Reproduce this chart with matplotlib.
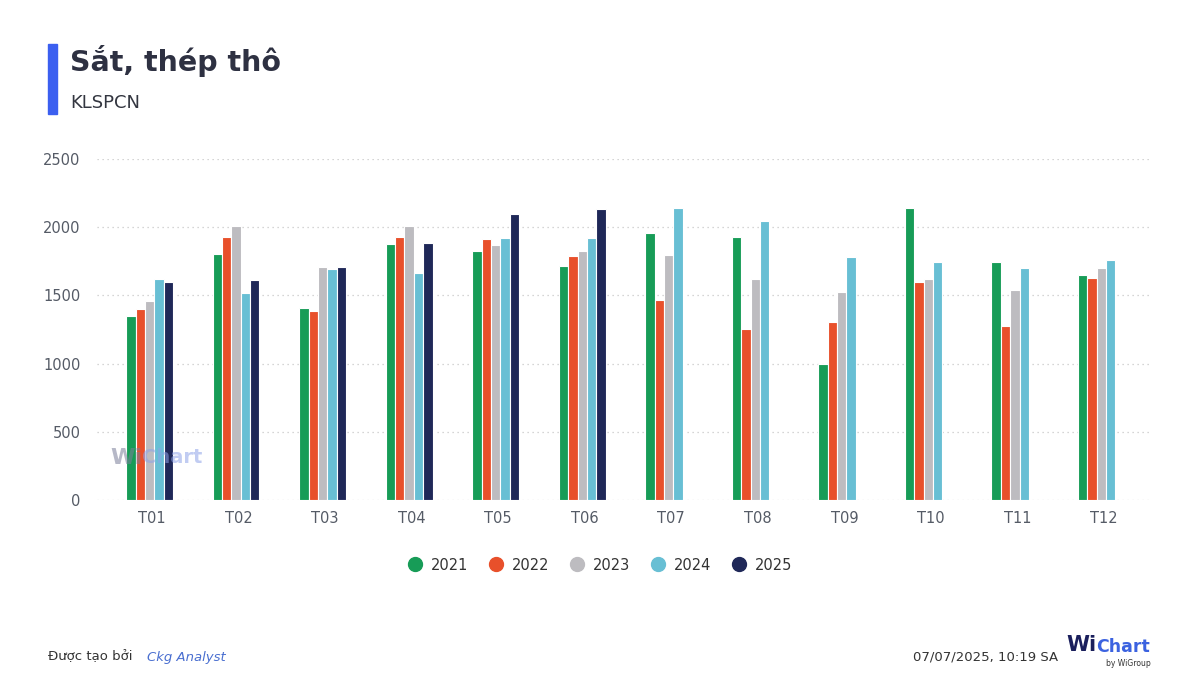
import matplotlib.pyplot as plt
import numpy as np

plt.rcParams['font.family'] = ['DejaVu Sans']

months = ['T01', 'T02', 'T03', 'T04', 'T05', 'T06',
          'T07', 'T08', 'T09', 'T10', 'T11', 'T12']
years = ['2021', '2022', '2023', '2024', '2025']

v2021 = [1346, 1803, 1410, 1874, 1823, 1718, 1955, 1928, 995, 2138, 1742, 1647]
v2022 = [1400, 1928, 1383, 1928, 1911, 1789, 1464, 1251, 1305, 1596, 1278, 1630]
v2023 = [1461, 2009, 1708, 2006, 1867, 1823, 1796, 1623, 1525, 1623, 1540, 1698]
v2024 = [1620, 1515, 1691, 1664, 1918, 1918, 2138, 2043, 1779, 1742, 1698, 1762]
v2025 = [1596, 1610, 1708, 1884, 2097, 2131, None, None, None, None, None, None]

colors = ['#179c57', '#e8502b', '#bdbcc0', '#68bfd4', '#1f2858']
series = [v2021, v2022, v2023, v2024, v2025]

fig = plt.figure(figsize=(12, 6.95), dpi=100)
ax = fig.add_axes([0.081, 0.2806, 0.879, 0.4906])

x = np.arange(len(months))
w = 0.108
shift = -0.03
for i, (vals, col, yr) in enumerate(zip(series, colors, years)):
    xs = [xi + (i - 2) * w + shift for xi, v in zip(x, vals) if v is not None]
    hs = [v for v in vals if v is not None]
    ax.bar(xs, hs, width=w, color=col, edgecolor='white', linewidth=0.8,
           label=yr, zorder=3)

ax.set_xlim(-0.635, 11.555)
ax.set_ylim(0, 2500)
ax.set_yticks([0, 500, 1000, 1500, 2000, 2500])
ax.set_xticks(x)
ax.set_xticklabels(months)
ax.yaxis.grid(True, linestyle=(0, (1, 3)), color='#c8c8c8', linewidth=0.9, zorder=0)
ax.set_axisbelow(True)
for s in ax.spines.values():
    s.set_visible(False)
ax.tick_params(axis='both', length=0, labelsize=10.5, colors='#555b66')
ax.tick_params(axis='x', pad=8)
ax.tick_params(axis='y', pad=12)

# watermark
ax.text(110 / 1200, 1 - 464 / 695, 'Wi', transform=fig.transFigure, fontsize=16,
        fontweight='bold', color='#7a7f99', alpha=0.55, zorder=4)
ax.text(142 / 1200, 1 - 463 / 695, 'Chart', transform=fig.transFigure, fontsize=14,
        fontweight='bold', color='#8ea3e8', alpha=0.55, zorder=4)

# legend
handles = [plt.Line2D([], [], marker='o', linestyle='', markersize=10,
                      markerfacecolor=c, markeredgecolor=c) for c in colors]
fig.legend(handles, years, loc='center', bbox_to_anchor=(0.5, 1 - 565 / 695),
           ncol=5, frameon=False, fontsize=10.5, handlelength=1.0, handletextpad=0.6,
           columnspacing=1.4, labelcolor='#333333')

# header
fig.patches.append(plt.Rectangle((48 / 1200, 1 - 114 / 695), 9 / 1200, 70 / 695,
                                 transform=fig.transFigure, color='#3b5ff0'))
fig.text(70 / 1200, 1 - 61 / 695, 'Sắt, thép thô', fontsize=20.5, fontweight='bold',
         color='#2e3142', va='center')
fig.text(70 / 1200, 1 - 103 / 695, 'KLSPCN', fontsize=13, color='#333640', va='center')

# footer
fig.text(48 / 1200, 1 - 657 / 695, 'Được tạo bởi', fontsize=9.5, color='#333333', va='center')
fig.text(147 / 1200, 1 - 657 / 695, 'Ckg Analyst', fontsize=9.5, color='#4a6fd0',
         style='italic', va='center')
fig.text(1058 / 1200, 1 - 657 / 695, '07/07/2025, 10:19 SA', fontsize=9.5,
         color='#333333', va='center', ha='right')
fig.text(1066 / 1200, 1 - 645 / 695, 'Wi', fontsize=15, fontweight='bold',
         color='#1a1f5c', va='center')
fig.text(1096 / 1200, 1 - 647 / 695, 'Chart', fontsize=12.5, fontweight='bold',
         color='#3b62e0', va='center')
fig.text(1151 / 1200, 1 - 663 / 695, 'by WiGroup', fontsize=5.5,
         color='#333333', va='center', ha='right')

fig.savefig('out.png', dpi=100, facecolor='white')
